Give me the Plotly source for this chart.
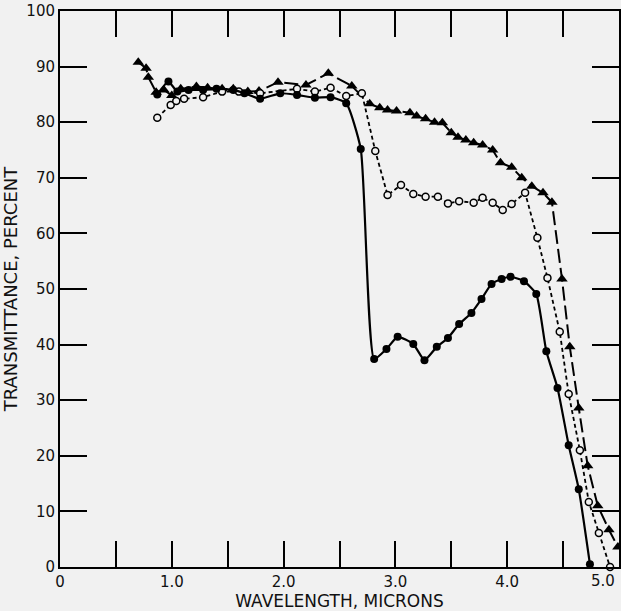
import plotly.graph_objects as go

# Solid line, filled circles
solid_x = [0.87, 0.97, 1.05, 1.15, 1.28, 1.40, 1.55, 1.65, 1.79, 1.97, 2.12, 2.28, 2.42, 2.56, 2.69, 2.81,
           2.92, 3.02, 3.16, 3.26, 3.37, 3.47, 3.57, 3.68, 3.77, 3.86, 3.95, 4.03, 4.15, 4.26, 4.35, 4.45,
           4.55, 4.64, 4.74]
solid_y = [85.0, 87.3, 85.5, 85.8, 85.8, 86.0, 85.8, 85.2, 84.2, 85.2, 84.9, 84.4, 84.5, 83.4, 75.2, 37.4,
           39.2, 41.4, 40.1, 37.2, 39.6, 41.2, 43.7, 45.7, 48.2, 50.9, 51.8, 52.2, 51.4, 49.1, 38.8, 32.2,
           21.9, 14.0, 0.5]

# Short dashed line, open circles
open_x = [0.87, 0.99, 1.04, 1.11, 1.28, 1.45, 1.60, 1.79, 2.12, 2.28, 2.42, 2.56, 2.70, 2.82, 2.93, 3.05,
          3.16, 3.27, 3.38, 3.47, 3.57, 3.70, 3.78, 3.87, 3.96, 4.04, 4.16, 4.27, 4.36, 4.47, 4.55, 4.65,
          4.73, 4.82, 4.92]
open_y = [80.8, 83.1, 83.8, 84.2, 84.5, 85.5, 85.5, 85.2, 86.0, 85.5, 86.2, 84.7, 85.2, 74.8, 66.9, 68.7,
          67.1, 66.6, 66.6, 65.4, 65.8, 65.5, 66.4, 65.5, 64.2, 65.3, 67.3, 59.2, 52.0, 42.3, 31.1, 21.0,
          11.7, 6.1, 0.0]

# Long dashed line, filled triangles
tri_x = [0.70, 0.77, 0.79, 0.86, 0.93, 1.00, 1.08, 1.22, 1.32, 1.45, 1.55, 1.68, 1.78, 1.95, 2.20, 2.40,
         2.61, 2.77, 2.86, 2.93, 3.01, 3.13, 3.19, 3.27, 3.35, 3.42, 3.50, 3.56, 3.63, 3.70, 3.78, 3.87,
         3.94, 4.04, 4.13, 4.22, 4.32, 4.40, 4.49, 4.56, 4.64, 4.72, 4.81, 4.91, 4.99]
tri_y = [90.8, 89.7, 88.1, 85.4, 85.8, 84.8, 86.0, 86.4, 86.2, 86.0, 86.0, 85.5, 85.6, 87.2, 86.7, 88.8,
         86.5, 83.3, 82.6, 82.2, 82.0, 81.7, 81.1, 80.6, 80.0, 79.9, 78.1, 77.3, 76.8, 76.3, 75.9, 75.0,
         72.7, 71.9, 70.0, 68.5, 67.3, 65.6, 51.8, 39.6, 28.6, 18.2, 11.0, 6.7, 3.6]

x_tickvals = [0, 0.5, 1.0, 1.5, 2.0, 2.5, 3.0, 3.5, 4.0, 4.5, 5.0]
x_ticktext = ["0", "", "1.0", "", "2.0", "", "3.0", "", "4.0", "", ""]
x_last_label = "5.0"   # drawn right-aligned at the axis end (as in the reference)
y_tickvals = [0, 10, 20, 30, 40, 50, 60, 70, 80, 90, 100]

BG = "#f1f1f1"
fig = go.Figure()

fig.add_trace(go.Scatter(
    x=tri_x, y=tri_y, mode="lines+markers",
    line=dict(color="black", width=2, dash="14px,5px"),
    marker=dict(symbol="triangle-up", size=10, color="black"),
    showlegend=False, cliponaxis=False))

fig.add_trace(go.Scatter(
    x=open_x, y=open_y, mode="lines+markers",
    line=dict(color="black", width=1.8, dash="4px,3px"),
    marker=dict(symbol="circle", size=7, color=BG, line=dict(color="black", width=1.5)),
    showlegend=False, cliponaxis=False))

fig.add_trace(go.Scatter(
    x=solid_x, y=solid_y, mode="lines+markers",
    line=dict(color="black", width=2.2, shape="spline", smoothing=0.5),
    marker=dict(symbol="circle", size=8, color="black"),
    showlegend=False, cliponaxis=False))

font = dict(family="DejaVu Sans, Liberation Sans, sans-serif", color="#111", size=15)

fig.add_annotation(x=x_tickvals[-1], y=0, xref="x", yref="y", text=x_last_label,
                   showarrow=False, xanchor="right", yanchor="top", xshift=-2, yshift=-3,
                   font=dict(size=15, color="#111"))

fig.update_layout(
    width=621, height=611,
    margin=dict(l=60, r=2, t=11, b=44),
    paper_bgcolor=BG, plot_bgcolor=BG,
    font=font,
    xaxis=dict(
        range=[0, 5.0], tickvals=x_tickvals, ticktext=x_ticktext,
        ticks="inside", ticklen=26, tickwidth=1.5, tickcolor="black",
        showline=True, linecolor="black", linewidth=2, mirror="allticks",
        showgrid=False, zeroline=False, automargin=False,
        title=dict(text="WAVELENGTH, MICRONS", font=dict(size=17), standoff=0),
        tickfont=dict(size=15)),
    yaxis=dict(
        range=[0, 100], tickvals=y_tickvals,
        ticks="inside", ticklen=27, tickwidth=1.5, tickcolor="black",
        showline=True, linecolor="black", linewidth=2, mirror="allticks",
        showgrid=False, zeroline=False, automargin=False, ticklabeloverflow="allow",
        title=dict(text="TRANSMITTANCE, PERCENT", font=dict(size=18), standoff=4),
        tickfont=dict(size=15)),
)

fig.write_html("out.html",
               config={"displayModeBar": False},
               post_script="document.body.style.margin='0';document.body.style.overflow='hidden';")
